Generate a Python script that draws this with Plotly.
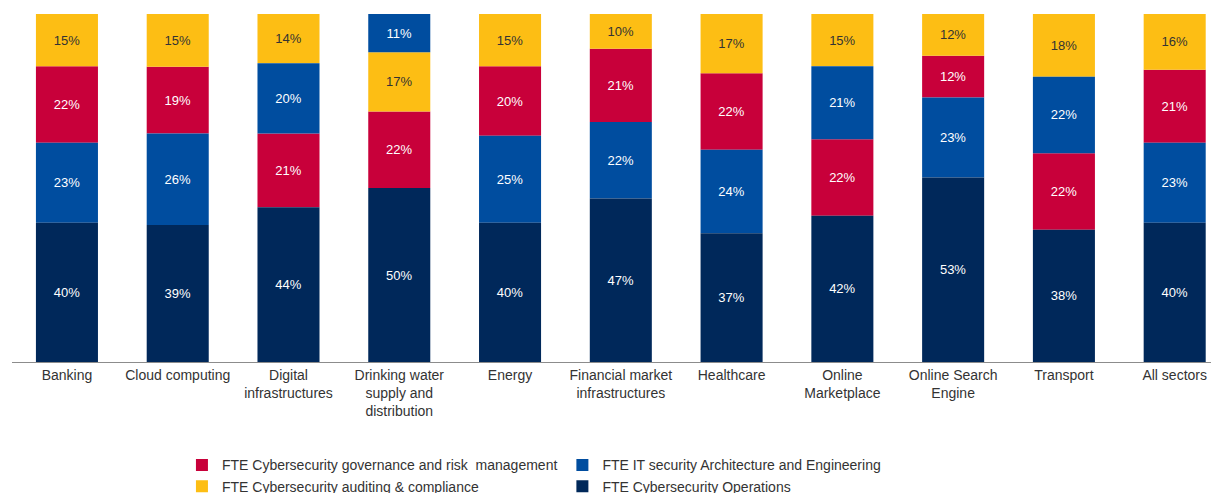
import plotly.graph_objects as go

# ---------------- Data ----------------
sectors = [
    "Banking", "Cloud computing", "Digital<br>infrastructures",
    "Drinking water<br>supply and<br>distribution", "Energy",
    "Financial market<br>infrastructures", "Healthcare",
    "Online<br>Marketplace", "Online Search<br>Engine", "Transport", "All sectors",
]

fte_ops = [40, 39, 44, 50, 40, 47, 37, 42, 53, 38, 40]      # FTE Cybersecurity Operations
fte_arch = [23, 26, 20, 11, 25, 22, 24, 21, 23, 22, 23]     # FTE IT security Architecture and Engineering
fte_gov = [22, 19, 21, 22, 20, 21, 22, 22, 12, 22, 21]      # FTE Cybersecurity governance and risk management
fte_audit = [15, 15, 14, 17, 15, 10, 17, 15, 12, 18, 16]    # FTE Cybersecurity auditing & compliance

# stacking order of the segments, bottom to top, per sector
stack_order = [
    ["ops", "arch", "gov", "audit"],
    ["ops", "arch", "gov", "audit"],
    ["ops", "gov", "arch", "audit"],
    ["ops", "gov", "audit", "arch"],
    ["ops", "arch", "gov", "audit"],
    ["ops", "arch", "gov", "audit"],
    ["ops", "arch", "gov", "audit"],
    ["ops", "gov", "arch", "audit"],
    ["ops", "arch", "gov", "audit"],
    ["ops", "gov", "arch", "audit"],
    ["ops", "arch", "gov", "audit"],
]

# key: (legend label, values, bar colour, label colour, legend column)
series = {
    "gov": ("FTE Cybersecurity governance and risk  management", fte_gov, "#C8003A", "white", "legend"),
    "audit": ("FTE Cybersecurity auditing & compliance", fte_audit, "#FDBE14", "#333333", "legend"),
    "arch": ("FTE IT security Architecture and Engineering", fte_arch, "#004D9F", "white", "legend2"),
    "ops": ("FTE Cybersecurity Operations", fte_ops, "#00285A", "white", "legend2"),
}

# ---------------- Normalise to 100% and compute bases ----------------
totals = [sum(series[k][1][i] for k in series) for i in range(len(sectors))]
bases = {k: [0.0] * len(sectors) for k in series}
for i, order in enumerate(stack_order):
    acc = 0.0
    for k in order:
        bases[k][i] = acc
        acc += series[k][1][i] / totals[i] * 100

# ---------------- Figure ----------------
fig = go.Figure()
for key, (name, vals, color, txtcolor, leg) in series.items():
    fig.add_trace(go.Bar(
        x=sectors,
        y=[v / t * 100 for v, t in zip(vals, totals)],
        base=bases[key],
        name=name,
        legend=leg,
        legendgroup=key,
        marker=dict(color=color, line=dict(width=0)),
        width=0.56,
        text=[f"{v}%" for v in vals],
        textposition="inside",
        insidetextanchor="middle",
        textangle=0,
        textfont=dict(family="Liberation Sans, Arial", size=13, color=txtcolor),
        hoverinfo="skip",
    ))

legend_style = dict(
    orientation="v", xanchor="left", y=-0.251, yanchor="top",
    itemwidth=30, tracegroupgap=0, bgcolor="rgba(0,0,0,0)",
    font=dict(family="Liberation Sans, Arial", size=14, color="#333333"),
)

# page body adds an 8px margin, so the figure is 8px smaller than the window
fig.update_layout(
    width=1211, height=485,
    barmode="overlay",
    paper_bgcolor="white", plot_bgcolor="white",
    margin=dict(l=4, r=0, t=6, b=131, autoexpand=False),
    font=dict(family="Liberation Sans, Arial", size=13, color="#333333"),
    xaxis=dict(
        range=[-0.496, 10.40], automargin=False,
        showline=True, linecolor="#8C8C8C", linewidth=1,
        ticks="", tickfont=dict(size=14, color="#333333"),
        showgrid=False,
    ),
    yaxis=dict(range=[0, 100], visible=False, automargin=False),
    legend=dict(x=0.1408, **legend_style),
    legend2=dict(x=0.456, **legend_style),
    showlegend=True,
)

fig.write_html("out.html")
